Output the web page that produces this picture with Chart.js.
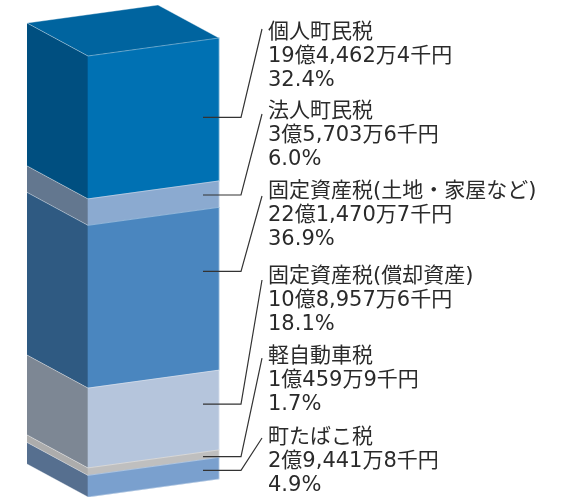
<!DOCTYPE html>
<html lang="ja">
<head>
    <meta charset="UTF-8">
    <title>町税の内訳</title>
    <script src="https://cdn.jsdelivr.net/npm/chart.js"></script>
    <style>
        html, body {
            margin: 0;
            padding: 0;
            background: #ffffff;
        }
        #wrap {
            width: 576px;
            height: 497px;
        }
    </style>
</head>
<body>
    <div id="wrap"><canvas id="chart" width="576" height="497"></canvas></div>

    <script>
        // top to bottom, as the stack is read
        const taxNames = ['個人町民税', '法人町民税', '固定資産税(土地・家屋など)', '固定資産税(償却資産)', '軽自動車税', '町たばこ税'];
        const taxAmounts = ['19億4,462万4千円', '3億5,703万6千円', '22億1,470万7千円', '10億8,957万6千円', '1億459万9千円', '2億9,441万8千円'];
        const taxShares = [32.4, 6.0, 36.9, 18.1, 1.7, 4.9];

        const frontColors = ['#0071b3', '#8baad0', '#4a86bf', '#b5c5dc', '#bfbfbf', '#7aa0ce'];
        const sideColors = ['#004f80', '#63778f', '#2f5a82', '#7d8794', '#acacac', '#566f8f'];
        const topColor = '#00649f';

        // box geometry (px)
        const rise = 18;      // front face slopes up to the right
        const sideDx = 61;
        const sideDy = 33;

        // where each label block sits, and where leaders hit the bar
        const labelX = 268;
        const lineH = 24;
        const labelY = [33, 112, 192, 277, 357, 438];
        const leaderEndY = [29, 114, 196, 280, 358, 438];
        const anchorFrac = [0.54, 0.45, 0.38, 0.4, 0.6, 0.5];

        // Chart.js stacks the first dataset at the bottom
        const order = taxNames.map((_, i) => i).reverse();
        const datasets = order.map(i => ({
            label: taxNames[i],
            data: [taxShares[i]],
            backgroundColor: frontColors[i],
            borderWidth: 0,
            barPercentage: 1,
            categoryPercentage: 1,
            clip: false
        }));

        function segs(chart) {
            // segments in top-to-bottom order with their bar element
            return order.map((i, d) => ({ i, el: chart.getDatasetMeta(d).data[0] }))
                .sort((a, b) => a.i - b.i);
        }

        const box3d = {
            id: 'box3d',
            beforeDatasetsDraw(chart) {
                const ctx = chart.ctx;
                const k = -rise / (chart.chartArea.right - chart.chartArea.left);
                // side faces
                segs(chart).forEach(({ i, el }) => {
                    const L = el.x - el.width / 2;
                    ctx.beginPath();
                    ctx.moveTo(L, el.y);
                    ctx.lineTo(L, el.base);
                    ctx.lineTo(L - sideDx, el.base - sideDy);
                    ctx.lineTo(L - sideDx, el.y - sideDy);
                    ctx.closePath();
                    ctx.fillStyle = sideColors[i];
                    ctx.fill();
                });
                // skew the front face
                ctx.save();
                ctx.transform(1, k, 0, 1, 0, -k * chart.chartArea.left);
            },
            afterDatasetsDraw(chart) {
                const ctx = chart.ctx;
                ctx.restore();
                const s = segs(chart);
                const top = s[0].el;
                const L = top.x - top.width / 2;
                const R = top.x + top.width / 2;
                const W = R - L;
                const k = -rise / W;

                // top face
                ctx.beginPath();
                ctx.moveTo(L, top.y);
                ctx.lineTo(R, top.y - rise);
                ctx.lineTo(R - sideDx, top.y - rise - sideDy);
                ctx.lineTo(L - sideDx, top.y - sideDy);
                ctx.closePath();
                ctx.fillStyle = topColor;
                ctx.fill();

                // thin light edges
                ctx.strokeStyle = 'rgba(255,255,255,0.45)';
                ctx.lineWidth = 0.8;
                ctx.stroke();
                s.forEach(({ el }) => {
                    ctx.beginPath();
                    ctx.moveTo(L - sideDx, el.base - sideDy);
                    ctx.lineTo(L, el.base);
                    ctx.lineTo(R, el.base - rise);
                    ctx.stroke();
                });
                ctx.beginPath();
                ctx.moveTo(R, top.y - rise);
                ctx.lineTo(R, s[s.length - 1].el.base - rise);
                ctx.stroke();

                // leaders and labels
                ctx.strokeStyle = '#333333';
                ctx.lineWidth = 1.2;
                ctx.fillStyle = '#2a2a2a';
                ctx.font = '21px "DejaVu Sans", "Noto Sans CJK JP", sans-serif';
                ctx.textAlign = 'left';
                ctx.textBaseline = 'middle';
                s.forEach(({ i, el }) => {
                    const ax = R - 16;
                    const yu = el.y + anchorFrac[i] * (el.base - el.y);
                    const ay = yu + k * (ax - L);
                    ctx.beginPath();
                    ctx.moveTo(ax, ay);
                    ctx.lineTo(R + 22, ay);
                    ctx.lineTo(R + 43, leaderEndY[i]);
                    ctx.stroke();

                    const lines = [taxNames[i], taxAmounts[i], taxShares[i].toFixed(1) + '%'];
                    lines.forEach((t, n) => ctx.fillText(t, labelX, labelY[i] + n * lineH));
                });
            }
        };

        new Chart(document.getElementById('chart'), {
            type: 'bar',
            data: { labels: ['町税'], datasets },
            options: {
                responsive: false,
                animation: false,
                devicePixelRatio: 1,
                layout: { padding: { left: 88, right: 357, top: 56, bottom: 0 } },
                plugins: { legend: { display: false }, tooltip: { enabled: false } },
                scales: {
                    x: { stacked: true, display: false },
                    y: { stacked: true, display: false, min: 0, max: 100 }
                }
            },
            plugins: [box3d]
        });
    </script>
</body>
</html>
